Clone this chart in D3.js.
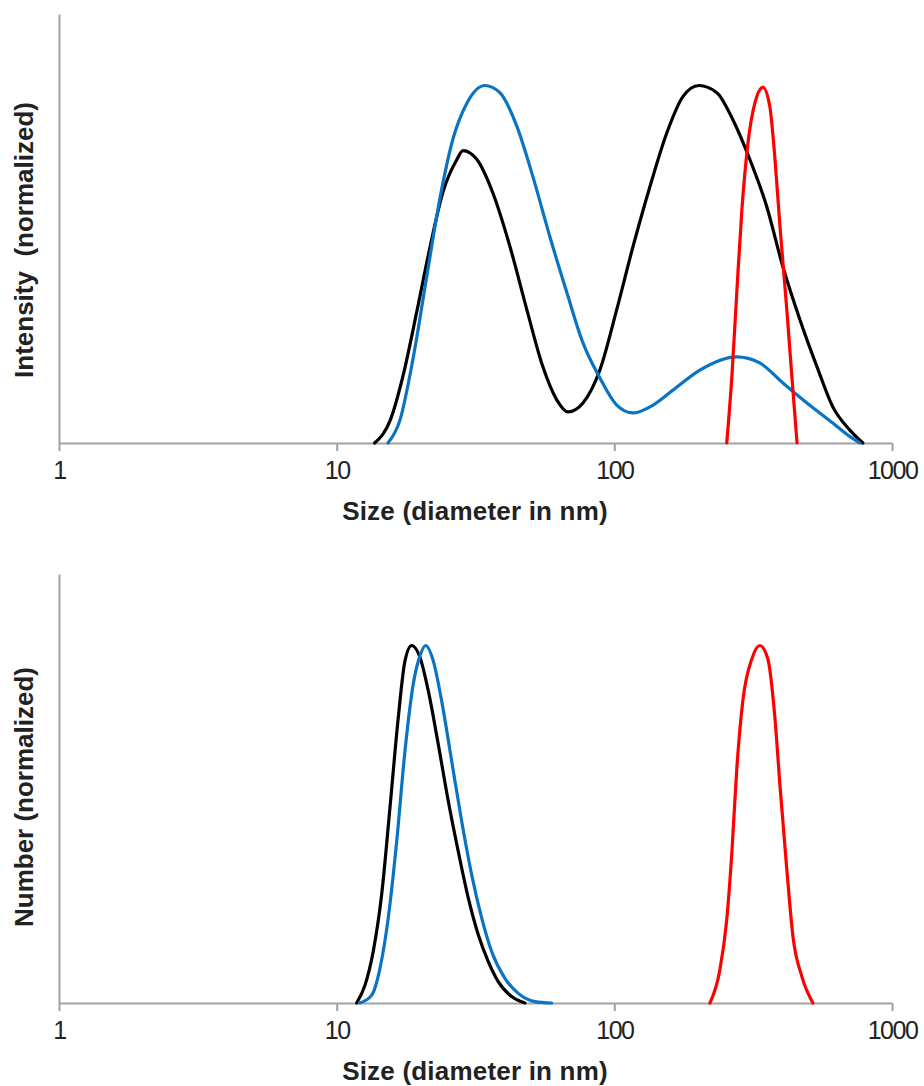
<!DOCTYPE html>
<html>
<head>
<meta charset="utf-8">
<script src="https://cdn.jsdelivr.net/npm/d3@7"></script>
<style>
  html, body { margin: 0; padding: 0; background: #ffffff; }
  svg { display: block; }
  text { font-family: "Liberation Sans", Arial, sans-serif; fill: #222; }
</style>
</head>
<body>
<div id="chart"></div>
<script>
// ---------------- data ----------------
const xTicks = [1, 10, 100, 1000];
const xTickLabels = ["1", "10", "100", "1000"];
const xTitle = "Size (diameter in nm)";
const yTitleTop = "Intensity  (normalized)";
const yTitleBottom = "Number (normalized)";

// Intensity panel
const intBlackSize = [13.7, 15.6, 17.3, 19.5, 21.7, 24.1, 27.1, 28.5, 32.0, 36.5, 42.1, 48.4, 55.3, 62.1, 68.1, 77.1, 88.7, 102, 116.7, 134.3, 154.6, 176.6, 201.7, 234, 267, 307.7, 354, 404.6, 466, 537, 612, 705, 785];
const intBlackValue = [0, 0.064, 0.185, 0.373, 0.549, 0.700, 0.793, 0.818, 0.793, 0.700, 0.549, 0.373, 0.213, 0.120, 0.087, 0.112, 0.204, 0.373, 0.549, 0.717, 0.868, 0.969, 1.0, 0.980, 0.905, 0.793, 0.661, 0.493, 0.345, 0.213, 0.101, 0.036, 0];

const intBlueSize = [15.3, 16.9, 18.8, 21.1, 23.5, 26.2, 29.5, 34.2, 38.7, 44.6, 50.9, 58.6, 67.5, 77.1, 88.7, 102, 116.7, 134.3, 162.6, 203.3, 276, 334, 404.6, 494, 612, 700, 766];
const intBlueValue = [0, 0.064, 0.232, 0.465, 0.681, 0.849, 0.952, 1.0, 0.980, 0.885, 0.745, 0.577, 0.420, 0.280, 0.182, 0.106, 0.084, 0.101, 0.148, 0.204, 0.241, 0.224, 0.168, 0.112, 0.056, 0.020, 0];

const intRedSize = [254, 265, 276, 288, 303, 321, 343, 363, 379, 395, 418, 436, 455];
const intRedValue = [0, 0.185, 0.420, 0.653, 0.840, 0.952, 0.995, 0.941, 0.793, 0.605, 0.373, 0.185, 0];

// Number panel
const numBlackSize = [11.8, 12.65, 13.54, 14.52, 15.56, 16.67, 17.62, 18.62, 19.95, 21.38, 23.22, 25.23, 27.41, 29.78, 32.36, 35.16, 38.19, 42.68, 47.65];
const numBlackValue = [0, 0.050, 0.144, 0.303, 0.547, 0.799, 0.957, 1.0, 0.967, 0.873, 0.724, 0.565, 0.424, 0.294, 0.191, 0.116, 0.060, 0.018, 0];

const numBlueSize = [12.13, 13.37, 14.32, 15.34, 16.45, 17.62, 18.87, 19.95, 20.92, 22.28, 23.88, 25.95, 28.19, 30.63, 33.28, 36.15, 40.36, 45.07, 51.78, 59.45];
const numBlueValue = [0, 0.022, 0.097, 0.238, 0.452, 0.705, 0.892, 0.971, 1.0, 0.957, 0.845, 0.677, 0.509, 0.359, 0.238, 0.144, 0.069, 0.027, 0.004, 0];

const numRedSize = [221, 240, 254, 265, 276, 290, 313, 334, 357, 379, 395, 418, 440, 474, 519];
const numRedValue = [0, 0.093, 0.233, 0.421, 0.654, 0.843, 0.963, 1.0, 0.963, 0.795, 0.607, 0.374, 0.185, 0.073, 0];

const seriesColors = { black: "#000000", blue: "#0a74c4", red: "#ff0000" };

// ---------------- drawing ----------------
const W = 924, H = 1086;
const svg = d3.select("#chart").append("svg").attr("width", W).attr("height", H);

const x = d3.scaleLog().domain([1, 1000]).range([59, 892]);

function zip(sizes, values) { return sizes.map((s, i) => ({ s: s, v: values[i] })); }

function panel(top, bottom, yTitle, yTitleCenter, series) {
  const y = d3.scaleLinear().domain([0, 1.2]).range([bottom, top]);
  const g = svg.append("g");

  // x axis
  const xAxis = d3.axisBottom(x).tickValues(xTicks)
    .tickFormat((d, i) => xTickLabels[i]).tickSizeOuter(0).tickSizeInner(8).tickPadding(10);
  const ax = g.append("g").attr("transform", `translate(0,${bottom})`).call(xAxis);
  ax.select(".domain").attr("stroke", "#a3a3a3").attr("stroke-width", 2);
  ax.selectAll(".tick line").attr("stroke", "#a3a3a3").attr("stroke-width", 2);
  ax.selectAll(".tick text").attr("font-size", 25).attr("fill", "#222")
    .attr("font-family", "Liberation Sans, Arial, sans-serif").attr("letter-spacing", -1.5);

  // y axis (no ticks)
  const yAxis = d3.axisLeft(y).tickValues([]).tickSizeOuter(0);
  const ay = g.append("g").attr("transform", `translate(${x(1)},0)`).call(yAxis);
  ay.select(".domain").attr("stroke", "#a3a3a3").attr("stroke-width", 2);

  // x title
  g.append("text").attr("x", 475).attr("y", bottom + 77)
    .attr("text-anchor", "middle").attr("font-size", 26).attr("font-weight", "bold")
    .attr("letter-spacing", 0.2)
    .text(xTitle);

  // y title
  g.append("text")
    .attr("transform", `translate(33,${yTitleCenter}) rotate(-90)`)
    .attr("text-anchor", "middle").attr("font-size", 26).attr("font-weight", "bold")
    .style("white-space", "pre")
    .text(yTitle);

  const line = d3.line().x(d => x(d.s)).y(d => y(d.v)).curve(d3.curveMonotoneX);
  series.forEach(sr => {
    g.append("path").datum(zip(sr.sizes, sr.values))
      .attr("fill", "none").attr("stroke", sr.color).attr("stroke-width", 3.2)
      .attr("stroke-linejoin", "round").attr("stroke-linecap", "round")
      .attr("d", line);
  });
}

panel(14, 443, yTitleTop, 240, [
  { sizes: intBlackSize, values: intBlackValue, color: seriesColors.black },
  { sizes: intBlueSize, values: intBlueValue, color: seriesColors.blue },
  { sizes: intRedSize, values: intRedValue, color: seriesColors.red }
]);

panel(574, 1003, yTitleBottom, 797, [
  { sizes: numBlackSize, values: numBlackValue, color: seriesColors.black },
  { sizes: numBlueSize, values: numBlueValue, color: seriesColors.blue },
  { sizes: numRedSize, values: numRedValue, color: seriesColors.red }
]);
</script>
</body>
</html>
